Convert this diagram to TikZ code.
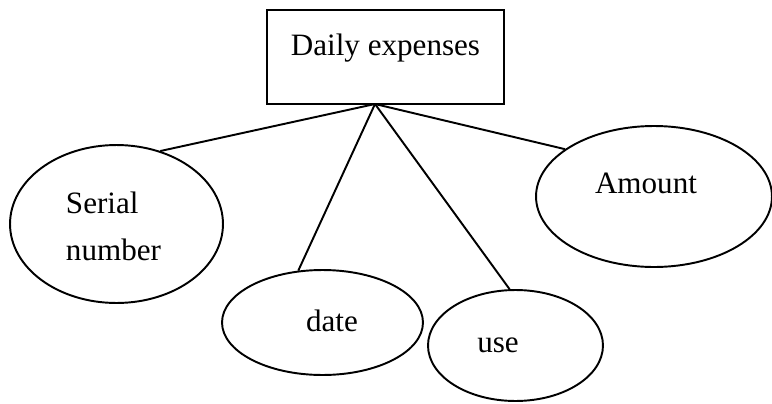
\documentclass[tikz,border=0pt]{standalone}
\usepackage{fontspec}
\setmainfont{Liberation Serif}
\usetikzlibrary{shapes.geometric}
\begin{document}
\begin{tikzpicture}[x=0.02cm,y=-0.02cm,line width=1.1pt,
    txt/.style={font=\fontsize{17.7}{21}\selectfont,inner sep=0pt},
    attr/.style={draw,ellipse,inner sep=0pt}]
  \useasboundingbox (0,0) rectangle (772,403);
  \node[draw,minimum width=4.74cm,minimum height=1.88cm] (box) at (385.5,57) {};
  \node[txt,anchor=base] (boxtxt) at (385.5,55) {Daily expenses};
  \coordinate (top) at (375,104);

  \node[attr,minimum width=4.26cm,minimum height=3.16cm] (serial) at (116.5,224) {};
  \node[attr,minimum width=4.02cm,minimum height=2.1cm] (date) at (322.5,322.5) {};
  \node[attr,minimum width=3.5cm,minimum height=2.22cm] (use) at (515.5,345.5) {};
  \node[attr,minimum width=4.72cm,minimum height=2.82cm] (amount) at (654,196.5) {};

  \node[txt,anchor=base west] (serialtxt) at (65,213) {Serial};
  \node[txt,anchor=base west] (numbertxt) at (65,260) {number};
  \node[txt,anchor=base] (datetxt) at (332,331) {date};
  \node[txt,anchor=base] (usetxt) at (498,352) {use};
  \node[txt,anchor=base] (amounttxt) at (646,193) {Amount};

  \draw (top) -- (serial.59.5);
  \draw (top) -- (date.115);
  \draw (top) -- (use.96);
  \draw (top) -- (amount.152.4);
\end{tikzpicture}
\end{document}
